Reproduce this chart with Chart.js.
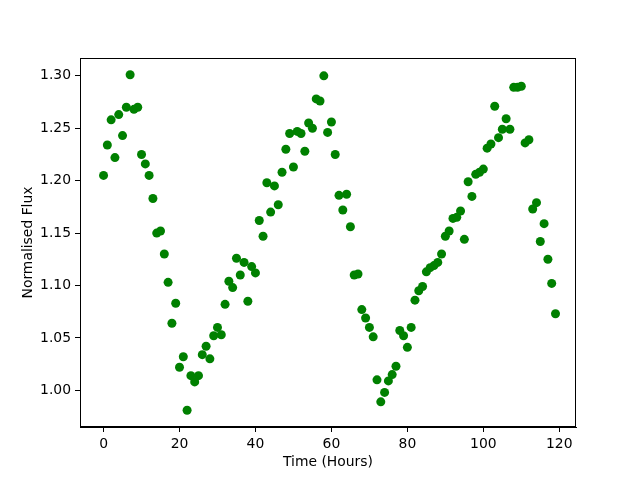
<!DOCTYPE html>
<html>
<head>
<meta charset="utf-8">
<script src="https://cdn.jsdelivr.net/npm/chart.js@4"></script>
<style>
  html, body { margin: 0; padding: 0; background: #fff; }
  #wrap { width: 640px; height: 480px; }
</style>
</head>
<body>
<div id="wrap"><canvas id="myChart" width="640" height="480"></canvas></div>
<script>
// hours 0..119, one reading per hour
const hours = [];
for (let h = 0; h < 120; h++) hours.push(h);

const flux = [
  1.205, 1.234, 1.258, 1.222, 1.263, 1.243, 1.270, 1.301, 1.268, 1.270,
  1.225, 1.216, 1.205, 1.183, 1.150, 1.152, 1.130, 1.103, 1.064, 1.083,
  1.022, 1.032, 0.981, 1.014, 1.008, 1.014, 1.034, 1.042, 1.030, 1.052,
  1.060, 1.053, 1.082, 1.104, 1.098, 1.126, 1.110, 1.122, 1.085, 1.118,
  1.112, 1.162, 1.147, 1.198, 1.170, 1.195, 1.177, 1.208, 1.230, 1.245,
  1.213, 1.247, 1.245, 1.228, 1.255, 1.250, 1.278, 1.276, 1.300, 1.246,
  1.256, 1.225, 1.186, 1.172, 1.187, 1.156, 1.110, 1.111, 1.077, 1.069,
  1.060, 1.051, 1.010, 0.989, 0.998, 1.009, 1.015, 1.023, 1.057, 1.052,
  1.041, 1.060, 1.086, 1.095, 1.099, 1.113, 1.117, 1.119, 1.122, 1.130,
  1.147, 1.152, 1.164, 1.165, 1.171, 1.144, 1.199, 1.185, 1.206, 1.208,
  1.211, 1.231, 1.235, 1.271, 1.241, 1.249, 1.259, 1.249, 1.289, 1.289,
  1.290, 1.236, 1.239, 1.173, 1.179, 1.142, 1.159, 1.125, 1.102, 1.073
];

const xTicks = [0, 20, 40, 60, 80, 100, 120];
const yTicks = [1.00, 1.05, 1.10, 1.15, 1.20, 1.25, 1.30];

const font = { family: 'DejaVu Sans', size: 13.9 };

// matplotlib style box round the plot area
const frame = {
  id: 'frame',
  afterDraw(chart) {
    const a = chart.chartArea, c = chart.ctx;
    c.save();
    c.strokeStyle = '#000';
    c.lineWidth = 1;
    c.strokeRect(a.left + 0.5, a.top + 0.5, a.right - a.left - 1, a.bottom - a.top - 1);
    c.restore();
  }
};

var ctx = document.getElementById('myChart');
var myChart = new Chart(ctx, {
  type: 'scatter',
  data: {
    datasets: [{
      data: hours.map((h, i) => ({ x: h, y: flux[i] })),
      backgroundColor: '#008000',
      borderWidth: 0,
      pointRadius: 4.5,
      pointHoverRadius: 4.5
    }]
  },
  options: {
    responsive: false,
    animation: false,
    layout: { padding: { top: 58, right: 64, left: 0, bottom: 0 } },
    plugins: { legend: { display: false }, tooltip: { enabled: false } },
    scales: {
      x: {
        min: -6.2,
        max: 124.4,
        afterFit(s) { s.height = 53; },
        afterBuildTicks(s) { s.ticks = xTicks.map(v => ({ value: v })); },
        grid: { drawOnChartArea: false, color: '#000', tickLength: 5, tickWidth: 1 },
        border: { color: '#000' },
        ticks: { color: '#000', font: font, padding: 4, maxRotation: 0 },
        title: { display: true, text: 'Time (Hours)', color: '#000', font: font, padding: { top: 0, bottom: 9 } }
      },
      y: {
        min: 0.965,
        max: 1.317,
        afterFit(s) { s.width = 80; },
        afterBuildTicks(s) { s.ticks = yTicks.map(v => ({ value: v })); },
        grid: { drawOnChartArea: false, color: '#000', tickLength: 5, tickWidth: 1 },
        border: { color: '#000' },
        ticks: { color: '#000', font: font, padding: 4, callback: v => v.toFixed(2) },
        title: { display: true, text: 'Normalised Flux', color: '#000', font: font, padding: { top: 20, bottom: 0 } }
      }
    }
  },
  plugins: [frame]
});
</script>
</body>
</html>
